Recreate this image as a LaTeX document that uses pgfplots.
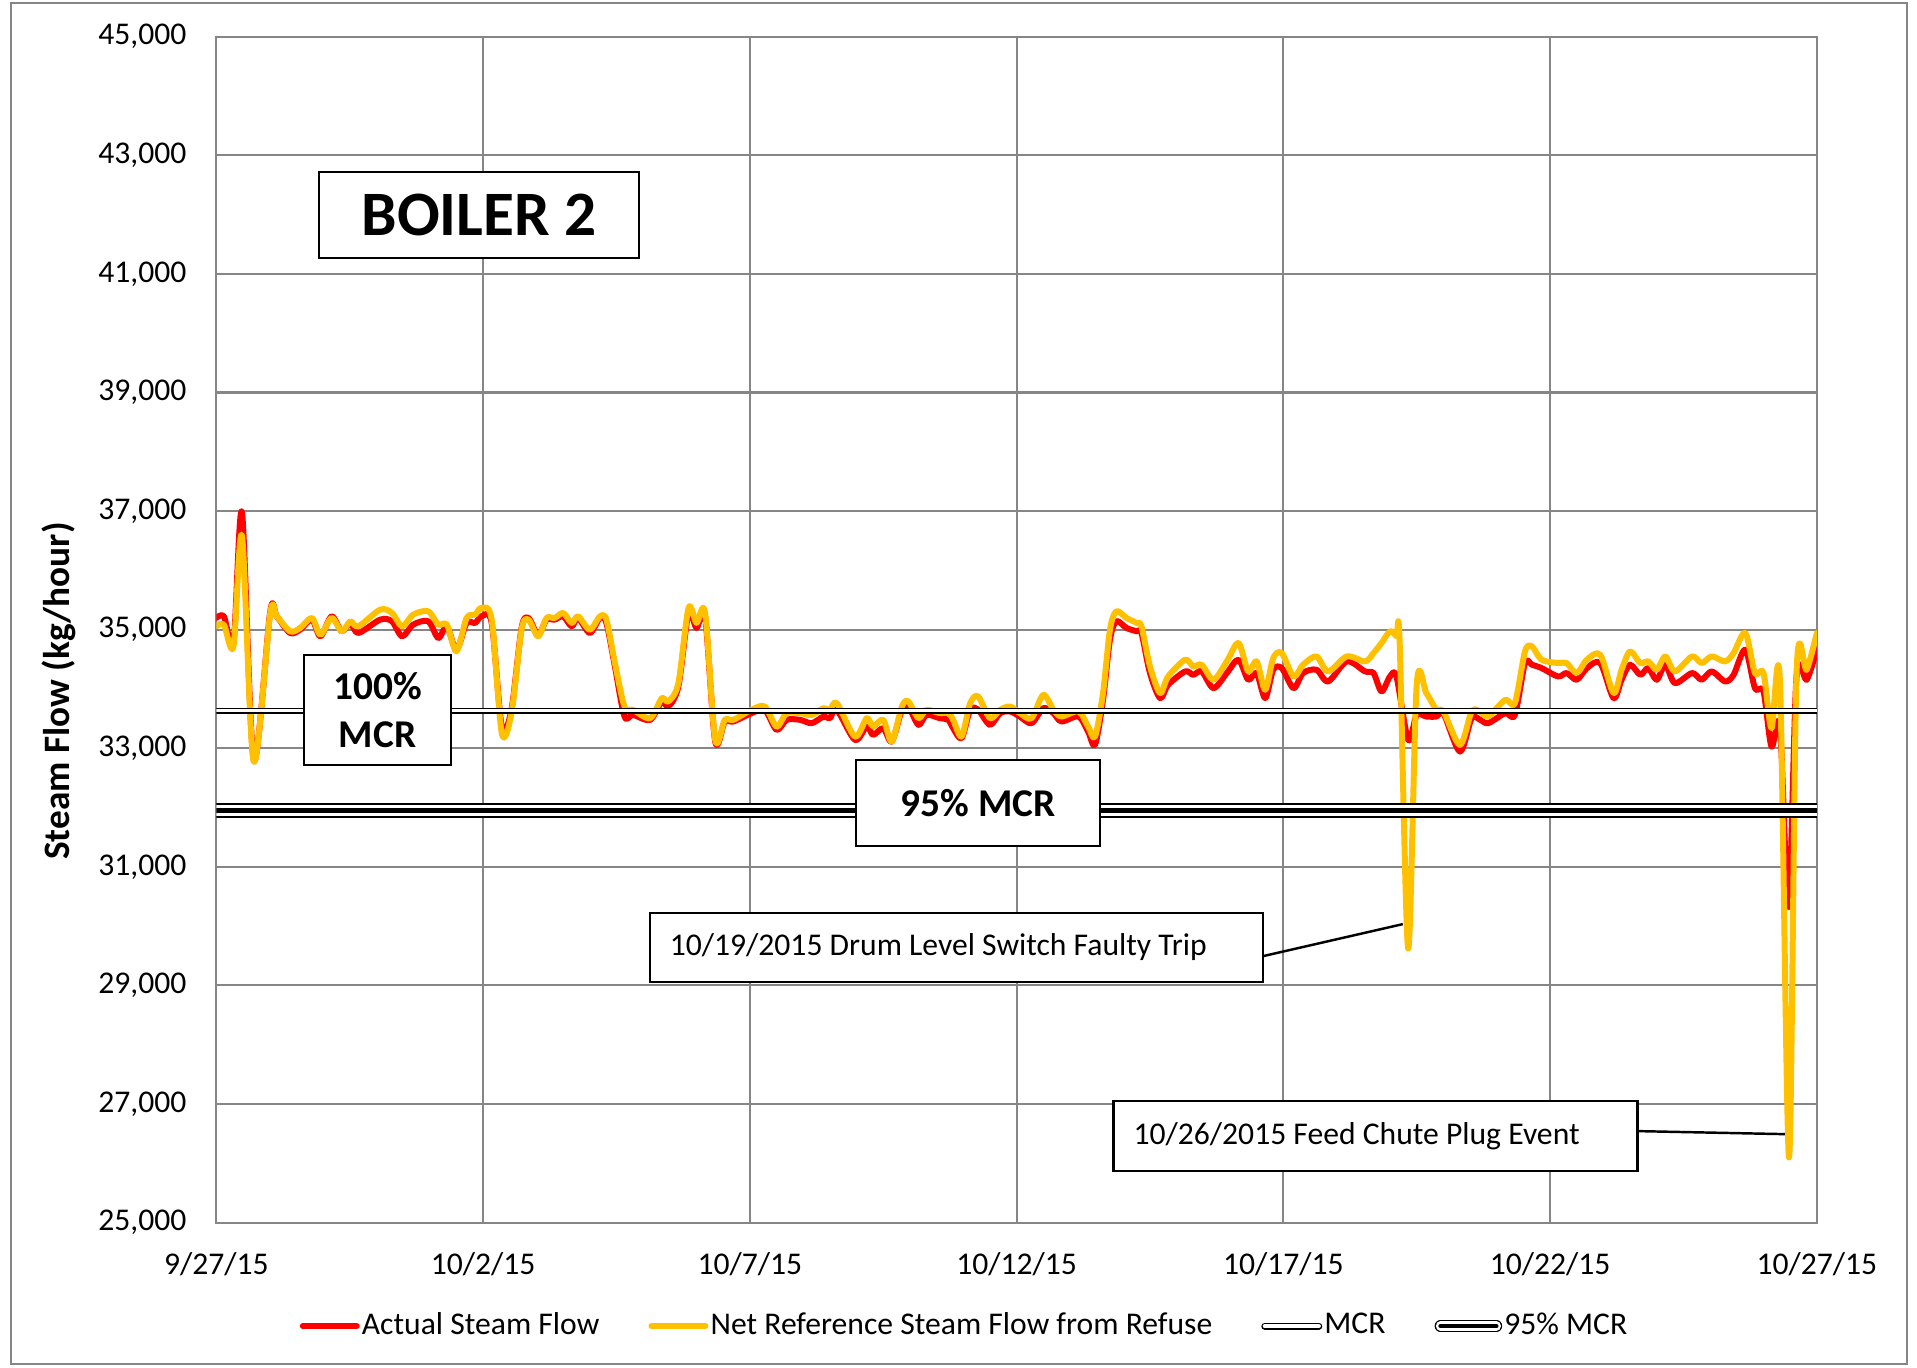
\documentclass[border=0pt]{standalone}
\usepackage{pgfplots}
\pgfplotsset{compat=1.18}
\usepackage{fontspec}
\setmainfont{Carlito}
\definecolor{actual}{RGB}{255,0,0}
\definecolor{netref}{RGB}{255,192,0}
\definecolor{gridgray}{RGB}{134,134,134}
\begin{document}
\begin{tikzpicture}
\useasboundingbox (0,0) rectangle (19.17,13.67);
\draw[gridgray, line width=0.6pt] (0.11,0.03) rectangle (19.07,13.64);
\begin{axis}[
  at={(2.164cm,1.444cm)}, anchor=south west,
  scale only axis, width=16.004cm, height=11.859cm,
  xmin=0, xmax=30, ymin=25000, ymax=45000,
  xtick={0,5,...,30},
  xticklabels={9/27/15,10/2/15,10/7/15,10/12/15,10/17/15,10/22/15,10/27/15},
  ytick={25000,27000,...,45000},
  grid=major,
  major grid style={gridgray, line width=0.6pt},
  axis line style={gridgray, line width=0.6pt},
  major tick length=0pt,
  tick label style={font=\fontsize{9}{11}\selectfont},
  /pgf/number format/assume math mode=true,
  scaled y ticks=false,
  yticklabel style={xshift=-5pt, /pgf/number format/fixed, /pgf/number format/1000 sep={,}},
  xticklabel style={yshift=-5pt},
  legend columns=4,
  legend style={draw=none, fill=none, at={(0.4675,-0.0872)}, anchor=center,
    font=\fontsize{9}{11}\selectfont,
    /tikz/every even column/.append style={column sep=0.47cm},
    nodes={inner xsep=0.6pt}},
  legend cell align=left,
  every axis plot/.append style={line cap=round, line join=round},
]
\addplot[actual, line width=1.7pt, smooth,
  legend image code/.code={\draw[actual, line width=1.7pt, line cap=round] (0cm,0cm) -- (0.54cm,0cm);}]
coordinates {(0.00,35197) (0.14,35225) (0.32,34775) (0.48,36972) (0.70,32803) (1.01,35310) (1.13,35225) (1.38,34944) (1.57,35000) (1.79,35169) (1.95,34887) (2.16,35225) (2.35,34972) (2.51,35113) (2.66,34944) (3.07,35169) (3.29,35141) (3.48,34887) (3.69,35085) (3.97,35141) (4.16,34859) (4.32,35056) (4.50,34662) (4.69,35113) (4.85,35113) (4.97,35225) (5.16,35113) (5.35,33366) (5.53,33648) (5.72,35028) (5.85,35197) (6.03,34915) (6.19,35169) (6.34,35169) (6.50,35225) (6.66,35056) (6.78,35197) (7.00,34944) (7.19,35197) (7.31,35113) (7.47,34380) (7.65,33535) (7.81,33563) (8.13,33479) (8.35,33789) (8.47,33704) (8.66,34042) (8.85,35282) (9.00,35028) (9.16,35225) (9.35,33113) (9.53,33451) (9.69,33451) (10.03,33592) (10.28,33648) (10.50,33310) (10.69,33479) (10.94,33479) (11.16,33423) (11.38,33535) (11.50,33507) (11.63,33648) (11.97,33141) (12.19,33366) (12.31,33225) (12.50,33338) (12.66,33113) (12.85,33648) (12.97,33704) (13.16,33394) (13.31,33563) (13.56,33507) (13.72,33479) (13.81,33338) (13.97,33169) (14.13,33648) (14.28,33648) (14.50,33394) (14.69,33592) (14.88,33620) (15.06,33535) (15.28,33423) (15.50,33676) (15.69,33592) (15.84,33451) (16.16,33535) (16.34,33282) (16.47,33056) (16.62,33817) (16.75,34831) (16.87,35141) (17.06,35028) (17.25,34972) (17.34,34944) (17.50,34268) (17.69,33845) (17.84,34070) (18.16,34296) (18.31,34239) (18.47,34296) (18.69,34014) (18.94,34268) (19.16,34493) (19.34,34155) (19.50,34268) (19.66,33845) (19.81,34324) (19.97,34352) (20.19,34014) (20.37,34268) (20.62,34324) (20.84,34127) (21.19,34465) (21.53,34296) (21.69,34268) (21.84,33958) (22.00,34211) (22.12,34211) (22.34,33141) (22.50,33563) (22.68,33535) (22.87,33535) (23.00,33592) (23.31,32944) (23.53,33507) (23.69,33479) (23.84,33423) (24.16,33592) (24.34,33563) (24.53,34437) (24.66,34408) (24.84,34352) (25.15,34211) (25.31,34268) (25.50,34155) (25.69,34352) (25.94,34437) (26.19,33845) (26.34,34155) (26.50,34408) (26.69,34239) (26.84,34352) (27.00,34155) (27.16,34408) (27.34,34099) (27.66,34268) (27.84,34155) (28.03,34296) (28.28,34127) (28.44,34239) (28.66,34662) (28.84,34014) (29.00,33958) (29.15,33028) (29.31,33366) (29.47,30320) (29.62,34211) (29.81,34155) (30.00,34662)};
\addlegendentry{Actual Steam Flow}
\addplot[netref, line width=1.7pt, smooth,
  legend image code/.code={\draw[netref, line width=1.7pt, line cap=round] (0cm,0cm) -- (0.54cm,0cm);}]
coordinates {(0.00,35056) (0.14,35085) (0.32,34718) (0.48,36577) (0.70,32775) (1.01,35282) (1.13,35225) (1.38,34972) (1.57,35028) (1.79,35197) (1.95,34915) (2.16,35197) (2.35,34972) (2.51,35141) (2.66,35056) (3.07,35338) (3.29,35282) (3.48,35056) (3.69,35254) (3.97,35310) (4.16,35085) (4.32,35085) (4.50,34634) (4.69,35197) (4.85,35254) (4.97,35366) (5.16,35169) (5.35,33253) (5.53,33592) (5.72,35000) (5.85,35169) (6.03,34887) (6.19,35197) (6.34,35197) (6.50,35282) (6.66,35113) (6.78,35225) (7.00,35000) (7.19,35225) (7.31,35169) (7.47,34437) (7.65,33704) (7.81,33648) (8.13,33507) (8.35,33845) (8.47,33789) (8.66,34099) (8.85,35366) (9.00,35113) (9.16,35282) (9.35,33141) (9.53,33479) (9.69,33479) (10.03,33648) (10.28,33704) (10.50,33366) (10.69,33592) (10.94,33592) (11.16,33563) (11.38,33676) (11.50,33648) (11.63,33761) (11.97,33197) (12.19,33507) (12.31,33366) (12.50,33479) (12.66,33113) (12.85,33704) (12.97,33789) (13.16,33507) (13.31,33648) (13.56,33592) (13.72,33592) (13.81,33479) (13.97,33197) (14.13,33761) (14.28,33873) (14.50,33507) (14.69,33648) (14.88,33704) (15.06,33592) (15.28,33507) (15.50,33901) (15.69,33648) (15.84,33535) (16.16,33620) (16.34,33366) (16.47,33197) (16.62,33930) (16.75,35000) (16.87,35310) (17.06,35197) (17.25,35113) (17.34,35056) (17.50,34380) (17.69,33930) (17.84,34211) (18.16,34493) (18.31,34380) (18.47,34408) (18.69,34155) (18.94,34465) (19.16,34775) (19.34,34296) (19.50,34465) (19.66,33986) (19.81,34521) (19.97,34606) (20.19,34211) (20.37,34408) (20.62,34549) (20.84,34296) (21.19,34549) (21.53,34465) (21.69,34606) (21.84,34775) (22.00,34972) (22.12,34887) (22.18,34800) (22.34,29620) (22.50,34070) (22.68,33930) (22.87,33648) (23.00,33620) (23.31,33056) (23.53,33620) (23.69,33620) (23.84,33535) (24.16,33817) (24.34,33761) (24.53,34634) (24.66,34718) (24.84,34493) (25.15,34437) (25.31,34437) (25.50,34268) (25.69,34493) (25.94,34577) (26.19,33930) (26.34,34324) (26.50,34634) (26.69,34437) (26.84,34465) (27.00,34324) (27.16,34549) (27.34,34296) (27.66,34549) (27.84,34437) (28.03,34549) (28.28,34465) (28.44,34606) (28.66,34944) (28.84,34268) (29.00,34268) (29.15,33338) (29.31,34099) (29.48,26100) (29.62,34268) (29.81,34324) (30.00,34944)};
\addlegendentry{Net Reference Steam Flow from Refuse}
\addplot[black, line width=0.37pt, double=white, double distance=0.9pt,
  legend image code/.code={\draw[black, line width=0.4pt, double=white, double distance=1.2pt, line cap=round] (0cm,0cm) -- (0.54cm,0cm);}]
coordinates {(0,33630) (30,33630)};
\addlegendentry{MCR}
\addplot[black, line width=4.1pt, forget plot] coordinates {(0,31950) (30,31950)};
\addplot[white, line width=3.36pt, forget plot] coordinates {(0,31950) (30,31950)};
\addplot[black, line width=1.42pt,
  legend image code/.code={
    \draw[black, line width=3.3pt, line cap=round] (0cm,0cm) -- (0.56cm,0cm);
    \draw[white, line width=2.6pt, line cap=round] (0cm,0cm) -- (0.56cm,0cm);
    \draw[black, line width=1.2pt, line cap=round] (0cm,0cm) -- (0.56cm,0cm);}]
coordinates {(0,31950) (30,31950)};
\addlegendentry{95\% MCR}
% annotation boxes
\node[draw=black, fill=white, line width=0.7pt, minimum width=3.2cm, minimum height=0.86cm, inner sep=0pt,
  font=\bfseries\fontsize{18}{20}\selectfont] at (axis cs:4.92,41990) {BOILER 2};
\node[draw=black, fill=white, line width=0.7pt, minimum width=1.47cm, minimum height=1.10cm, inner sep=0pt, align=center,
  font=\bfseries\fontsize{11.2}{13.6}\selectfont] at (axis cs:3.02,33646) {100\%\\MCR};
\node[draw=black, fill=white, line width=0.7pt, minimum width=2.44cm, minimum height=0.86cm, inner sep=0pt,
  font=\bfseries\fontsize{11.2}{13.6}\selectfont] at (axis cs:14.28,32076) {95\% MCR};
\node[draw=black, fill=white, line width=0.7pt, inner xsep=0.2cm, inner ysep=0pt, minimum height=0.69cm,
  font=\fontsize{9}{11}\selectfont] at (axis cs:13.87,29641) {\makebox[5.73cm][l]{10/19/2015 Drum Level Switch Faulty Trip}};
\node[draw=black, fill=white, line width=0.7pt, inner xsep=0.2cm, inner ysep=0pt, minimum height=0.70cm,
  font=\fontsize{9}{11}\selectfont] at (axis cs:21.73,26462) {\makebox[4.84cm][l]{10/26/2015 Feed Chute Plug Event}};
\draw[black, line width=0.7pt] (axis cs:19.62,29494) -- (axis cs:22.24,30034);
\draw[black, line width=0.7pt] (axis cs:26.645,26543) -- (axis cs:29.40,26492);
\end{axis}
\node[rotate=90, font=\bfseries\fontsize{10.6}{12}\selectfont] at (0.59,6.76) {Steam Flow (kg/hour)};
\end{tikzpicture}
\end{document}
